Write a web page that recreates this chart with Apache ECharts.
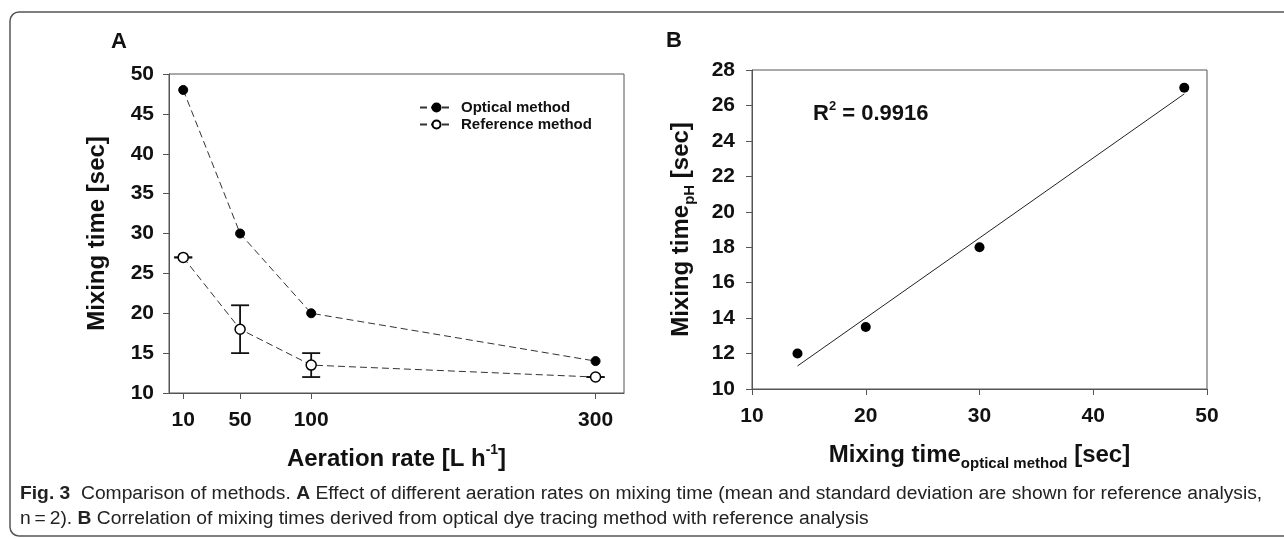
<!DOCTYPE html>
<html>
<head>
<meta charset="utf-8">
<script src="https://cdn.jsdelivr.net/npm/echarts@6/dist/echarts.min.js"></script>
<style>
  html, body { margin: 0; padding: 0; background: #fff; }
  #chart { width: 1284px; height: 539px; }
</style>
</head>
<body>
<div id="chart"></div>
<script>
// panel A: aeration rate vs mixing time
const aerationRates = [10, 50, 100, 300];
const opticalTimes = [48, 30, 20, 14];
const referenceTimes = [27, 18, 13.5, 12];
const referenceLow = [27, 15, 12, 12];
const referenceHigh = [27, 21, 15, 12];

// panel B: optical vs pH mixing time
const opticalX = [14, 20, 30, 48];
const phY = [12, 13.5, 18, 27];
const fitX = [14, 48];
const fitY = [11.3, 26.65];
const r2Text = '0.9916';

const FONT = '"Liberation Sans", Arial, sans-serif';
const AXIS_COLOR = '#555';
const INK = '#111';

const chart = echarts.init(document.getElementById('chart'));

// common axis style
function axisBase() {
  return {
    axisLine: { show: true, lineStyle: { color: AXIS_COLOR, width: 1 } },
    axisTick: { show: true, length: 6, lineStyle: { color: AXIS_COLOR } },
    splitLine: { show: false },
    axisLabel: { color: INK, fontFamily: FONT, fontWeight: 'bold', fontSize: 21 },
    nameTextStyle: { color: INK, fontFamily: FONT, fontWeight: 'bold', fontSize: 24 }
  };
}

const titleRich = {
  t: { fontFamily: FONT, fontWeight: 'bold', fontSize: 24, color: INK, lineHeight: 32 },
  sup: { fontFamily: FONT, fontWeight: 'bold', fontSize: 14, color: INK, lineHeight: 14, verticalAlign: 'top' },
  sub: { fontFamily: FONT, fontWeight: 'bold', fontSize: 15, color: INK, lineHeight: 15, verticalAlign: 'bottom' }
};

const xA = Object.assign(axisBase(), {
  gridIndex: 0, type: 'value', min: 0, max: 320,
  name: '{t|Aeration rate [L h}{sup|-1}{t|]}',
  nameLocation: 'middle', nameGap: 50
});
xA.axisLabel = Object.assign(xA.axisLabel, { customValues: aerationRates, margin: 17 });
xA.axisTick = Object.assign(xA.axisTick, { customValues: aerationRates });
xA.nameTextStyle = { rich: titleRich };

const yA = Object.assign(axisBase(), {
  gridIndex: 0, type: 'value', min: 10, max: 50, interval: 5,
  name: 'Mixing time [sec]', nameLocation: 'middle', nameGap: 60
});
yA.axisLabel.margin = 15;

const xB = Object.assign(axisBase(), {
  gridIndex: 1, type: 'value', min: 10, max: 50, interval: 10,
  name: '{t|Mixing time}{sub|optical method}{t| [sec]}',
  nameLocation: 'middle', nameGap: 50
});
xB.axisLabel.margin = 17;
xB.nameTextStyle = { rich: titleRich };

const yB = Object.assign(axisBase(), {
  gridIndex: 1, type: 'value', min: 10, max: 28, interval: 2,
  name: '{t|Mixing time}{sub|pH}{t| [sec]}',
  nameLocation: 'middle', nameGap: 55
});
yB.axisLabel.margin = 17;
yB.nameTextStyle = { rich: titleRich };

const errorData = aerationRates.map((x, i) => [x, referenceLow[i], referenceHigh[i]]);

const option = {
  animation: false,
  backgroundColor: '#fff',
  grid: [
    { left: 169, top: 74, width: 455, height: 319, show: true, borderColor: AXIS_COLOR, borderWidth: 1 },
    { left: 752, top: 70, width: 455, height: 319, show: true, borderColor: AXIS_COLOR, borderWidth: 1 }
  ],
  xAxis: [xA, xB],
  yAxis: [yA, yB],
  legend: {
    left: 414, top: 95, orient: 'vertical', itemGap: 2,
    itemWidth: 33, itemHeight: 10,
    data: ['Optical method', 'Reference method'],
    textStyle: { fontFamily: FONT, fontWeight: 'bold', fontSize: 15, color: INK, padding: [0, 0, 0, 3] }
  },
  graphic: [
    { type: 'rect', shape: { x: 10, y: 12, width: 1300, height: 524, r: 9 },
      style: { fill: 'none', stroke: '#555', lineWidth: 1.5 }, silent: true },
    { type: 'text', left: 111, top: 31,
      style: { text: 'A', fontFamily: FONT, fontWeight: 'bold', fontSize: 22, fill: INK } },
    { type: 'text', left: 666, top: 30,
      style: { text: 'B', fontFamily: FONT, fontWeight: 'bold', fontSize: 22, fill: INK } },
    { type: 'text', left: 813, top: 100,
      style: { text: '{t|R}{sup|2}{t| = ' + r2Text + '}', rich: {
        t: { fontFamily: FONT, fontWeight: 'bold', fontSize: 22, fill: INK, lineHeight: 28 },
        sup: { fontFamily: FONT, fontWeight: 'bold', fontSize: 13, fill: INK, lineHeight: 13, verticalAlign: 'top' }
      } } },
    { type: 'text', x: 20, y: 482, scaleX: 1.07,
      style: {
        text: '{b|Fig. 3}  Comparison of methods. {b|A} Effect of different aeration rates on mixing time (mean and standard deviation are shown for reference analysis,\nn\u2009=\u20092). {b|B} Correlation of mixing times derived from optical dye tracing method with reference analysis',
        fontFamily: FONT, fontSize: 18, fill: '#222', lineHeight: 25,
        rich: { b: { fontFamily: FONT, fontSize: 18, fontWeight: 'bold', fill: '#222', lineHeight: 25 } }
      } }
  ],
  series: [
    {
      name: 'errors', type: 'custom', xAxisIndex: 0, yAxisIndex: 0, z: 1,
      data: errorData,
      renderItem: function (params, api) {
        const x = api.value(0);
        const lo = api.coord([x, api.value(1)]);
        const hi = api.coord([x, api.value(2)]);
        const w = 9;
        const st = { stroke: '#111', lineWidth: 1.8 };
        return {
          type: 'group',
          children: [
            { type: 'line', shape: { x1: lo[0], y1: lo[1], x2: hi[0], y2: hi[1] }, style: st },
            { type: 'line', shape: { x1: lo[0] - w, y1: lo[1], x2: lo[0] + w, y2: lo[1] }, style: st },
            { type: 'line', shape: { x1: hi[0] - w, y1: hi[1], x2: hi[0] + w, y2: hi[1] }, style: st }
          ]
        };
      }
    },
    {
      name: 'Optical method', type: 'line', xAxisIndex: 0, yAxisIndex: 0, z: 3,
      data: aerationRates.map((x, i) => [x, opticalTimes[i]]),
      symbol: 'circle', symbolSize: 9,
      itemStyle: { color: '#000', borderColor: '#000', borderWidth: 1 },
      lineStyle: { color: '#333', width: 1, type: [7, 4] }
    },
    {
      name: 'Reference method', type: 'line', xAxisIndex: 0, yAxisIndex: 0, z: 3,
      data: aerationRates.map((x, i) => [x, referenceTimes[i]]),
      symbol: 'circle', symbolSize: 10,
      itemStyle: { color: '#fff', borderColor: '#000', borderWidth: 1.5 },
      lineStyle: { color: '#333', width: 1, type: [7, 4] }
    },
    {
      name: 'fit', type: 'line', xAxisIndex: 1, yAxisIndex: 1, z: 2,
      data: fitX.map((x, i) => [x, fitY[i]]),
      symbol: 'none', lineStyle: { color: '#222', width: 1 }
    },
    {
      name: 'pH vs optical', type: 'scatter', xAxisIndex: 1, yAxisIndex: 1, z: 3,
      data: opticalX.map((x, i) => [x, phY[i]]),
      symbol: 'circle', symbolSize: 10,
      itemStyle: { color: '#000', opacity: 1 }
    }
  ]
};

chart.setOption(option);
</script>
</body>
</html>
